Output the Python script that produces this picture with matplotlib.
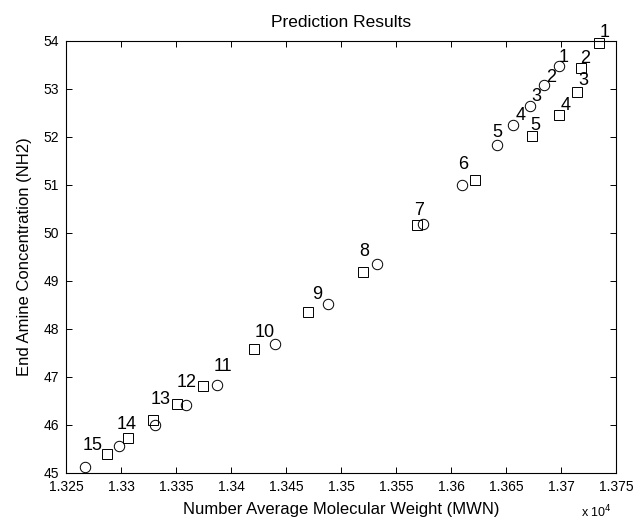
import numpy as np
import matplotlib

matplotlib.use("Agg")
import matplotlib.pyplot as plt
from matplotlib.ticker import FuncFormatter

# circles, number average molecular weight (MWN) and NH2 per sample
circle_mwn = [13697.9, 13684.5, 13672.1, 13656.6, 13642.1, 13610.0, 13574.3, 13532.5,
              13488.5, 13440.3, 13387.5, 13358.8, 13330.9, 13298.5, 13267.3]
circle_nh2 = [53.47, 53.07, 52.64, 52.25, 51.82, 50.99, 50.18, 49.35,
              48.51, 47.675, 46.83, 46.41, 45.99, 45.56, 45.125]

# squares
square_mwn = [13734.5, 13718.5, 13714.8, 13698.5, 13673.4, 13622.0, 13568.8, 13519.7,
              13470.3, 13420.9, 13374.3, 13350.6, 13329.4, 13306.6, 13287.0]
square_nh2 = [53.95, 53.44, 52.93, 52.45, 52.01, 51.1, 50.16, 49.19,
              48.35, 47.57, 46.81, 46.43, 46.10, 45.73, 45.38]

sample_ids = [str(i) for i in range(1, 16)]

x_ticks = [13250, 13300, 13350, 13400, 13450, 13500, 13550, 13600, 13650, 13700, 13750]
y_ticks = [45, 46, 47, 48, 49, 50, 51, 52, 53, 54]

# label offsets in pixels (right, down) from the marker
circle_label_off = [(5, -9), (7, -8), (6, -9), (7, -9), (0, -13)]
square_label_off = [(6, -11), (4, -9), (6, -12), (6, -10), (4, -11),
                    (-12, -15), (2, -15), (2, -20), (9, -17), (11, -17),
                    (20, -19), (10, -22), (7, -20), (-2, -13), (-14, -9)]


def plot_it():
    plt.rcParams["font.family"] = ["Liberation Sans", "DejaVu Sans"]
    fig = plt.figure(figsize=(6.39, 5.23), dpi=100)
    ax = fig.add_axes([66 / 639, 1 - 472.7 / 523, 550 / 639, 432 / 523])

    ax.plot(circle_mwn, circle_nh2, "o", ms=7.5, mfc="none", mec="black",
            mew=0.7, clip_on=False)
    ax.plot(square_mwn, square_nh2, "s", ms=7.5, mfc="none", mec="black",
            mew=0.7, clip_on=False)

    # numbers next to the circles (first five) and squares
    for i, (dx, dy) in enumerate(circle_label_off):
        ax.annotate(sample_ids[i], (circle_mwn[i], circle_nh2[i]),
                    xytext=(dx, -dy), textcoords="offset pixels",
                    ha="center", va="center", fontsize=13, annotation_clip=False)
    for i, (dx, dy) in enumerate(square_label_off):
        ax.annotate(sample_ids[i], (square_mwn[i], square_nh2[i]),
                    xytext=(dx, -dy), textcoords="offset pixels",
                    ha="center", va="center", fontsize=13, annotation_clip=False)

    ax.set_xlim(13250, 13750)
    ax.set_ylim(45, 54)
    ax.set_xticks(x_ticks)
    ax.set_yticks(y_ticks)
    ax.xaxis.set_major_formatter(FuncFormatter(lambda v, p: "%g" % (v / 1e4)))
    ax.tick_params(direction="in", top=True, right=True, length=4,
                   width=0.7, labelsize=10, pad=5)
    for sp in ax.spines.values():
        sp.set_linewidth(0.8)

    ax.set_title("Prediction Results", fontsize=12.5, pad=10)
    ax.set_xlabel("Number Average Molecular Weight (MWN)", fontsize=12, labelpad=6)
    ax.set_ylabel("End Amine Concentration (NH2)", fontsize=12, labelpad=8)
    ax.text(0.965, -0.09, r"x 10$^4$", transform=ax.transAxes, fontsize=9,
            ha="center", va="center")

    fig.savefig("out.png", dpi=100)


def main():
    plot_it()


if __name__ == "__main__":
    main()
